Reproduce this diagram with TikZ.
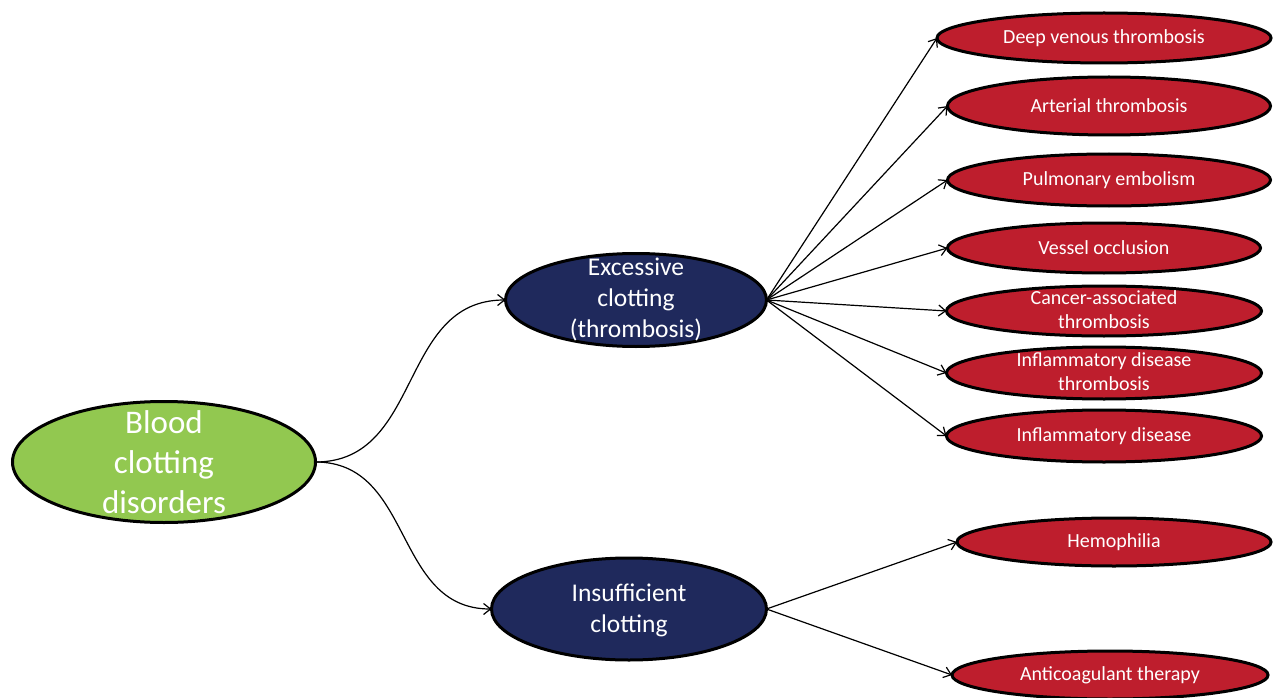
\documentclass[tikz,border=0pt]{standalone}
\usepackage{fontspec}
\setmainfont{Carlito}
\usetikzlibrary{shapes.geometric,arrows.meta}
\definecolor{rootgreen}{RGB}{146,200,80}
\definecolor{midnavy}{RGB}{31,41,92}
\definecolor{leafred}{RGB}{190,30,45}
\newcommand{\ovtxt}[5][5pt]{\makebox[0pt]{\raisebox{-#1}{\smash{\parbox[c]{#2}{\centering\fontsize{#3}{#4}\selectfont #5}}}}}
\begin{document}
\begin{tikzpicture}[x=1pt,y=-1pt,
  oval/.style={ellipse, draw=black, line width=3pt, inner sep=0pt, outer sep=0pt, text=white},
  rootbox/.style={oval, fill=rootgreen},
  midbox/.style={oval, fill=midnavy},
  leafbox/.style={oval, fill=leafred},
  conn/.style={draw=black, line width=1.2pt, -{Straight Barb[length=7pt,width=11pt,line width=1.2pt]}}
]
\useasboundingbox (0,0) rectangle (1275,698);

\node[rootbox, minimum width=303pt, minimum height=121pt] (root) at (164,462)
  {\ovtxt{260pt}{33}{40}{Blood\\clotting\\disorders}};
\node[midbox, minimum width=261pt, minimum height=93pt] (exc) at (636,300)
  {\ovtxt[4pt]{220pt}{25.5}{31}{Excessive\\clotting\\(thrombosis)}};
\node[midbox, minimum width=275pt, minimum height=102pt] (ins) at (629,609)
  {\ovtxt[7pt]{220pt}{25.5}{31}{Insufficient\\clotting}};

\node[leafbox, minimum width=334pt, minimum height=50pt] (dvt) at (1104,38)
  {\ovtxt{300pt}{20}{24.5}{Deep venous thrombosis}};
\node[leafbox, minimum width=323pt, minimum height=58pt] (art) at (1109,106)
  {\ovtxt{300pt}{20}{24.5}{Arterial thrombosis}};
\node[leafbox, minimum width=323pt, minimum height=52pt] (pul) at (1109,180)
  {\ovtxt{300pt}{20}{24.5}{Pulmonary embolism}};
\node[leafbox, minimum width=313pt, minimum height=50pt] (ves) at (1104,248)
  {\ovtxt{300pt}{20}{24.5}{Vessel occlusion}};
\node[leafbox, minimum width=315pt, minimum height=50pt] (can) at (1104,311)
  {\ovtxt[2.5pt]{300pt}{20}{24.5}{Cancer-associated\\thrombosis}};
\node[leafbox, minimum width=315pt, minimum height=52pt] (infb) at (1104,373)
  {\ovtxt[2.5pt]{300pt}{20}{24.5}{Inflammatory disease\\thrombosis}};
\node[leafbox, minimum width=315pt, minimum height=52pt] (inf) at (1104,436)
  {\ovtxt{300pt}{20}{24.5}{Inflammatory disease}};
\node[leafbox, minimum width=314pt, minimum height=48pt] (hem) at (1114,542)
  {\ovtxt{300pt}{20}{24.5}{Hemophilia}};
\node[leafbox, minimum width=316pt, minimum height=48pt] (anti) at (1110,675)
  {\ovtxt{300pt}{20}{24.5}{Anticoagulant therapy}};

\draw[conn] (root.east) to[out=0,in=180,looseness=1.1] (exc.west);
\draw[conn] (root.east) to[out=0,in=180,looseness=1.1] (ins.west);

\foreach \t in {dvt,art,pul,ves,can,infb,inf}
  \draw[conn] (exc.east) -- (\t.west);
\foreach \t in {hem,anti}
  \draw[conn] (ins.east) -- (\t.west);
\end{tikzpicture}
\end{document}
